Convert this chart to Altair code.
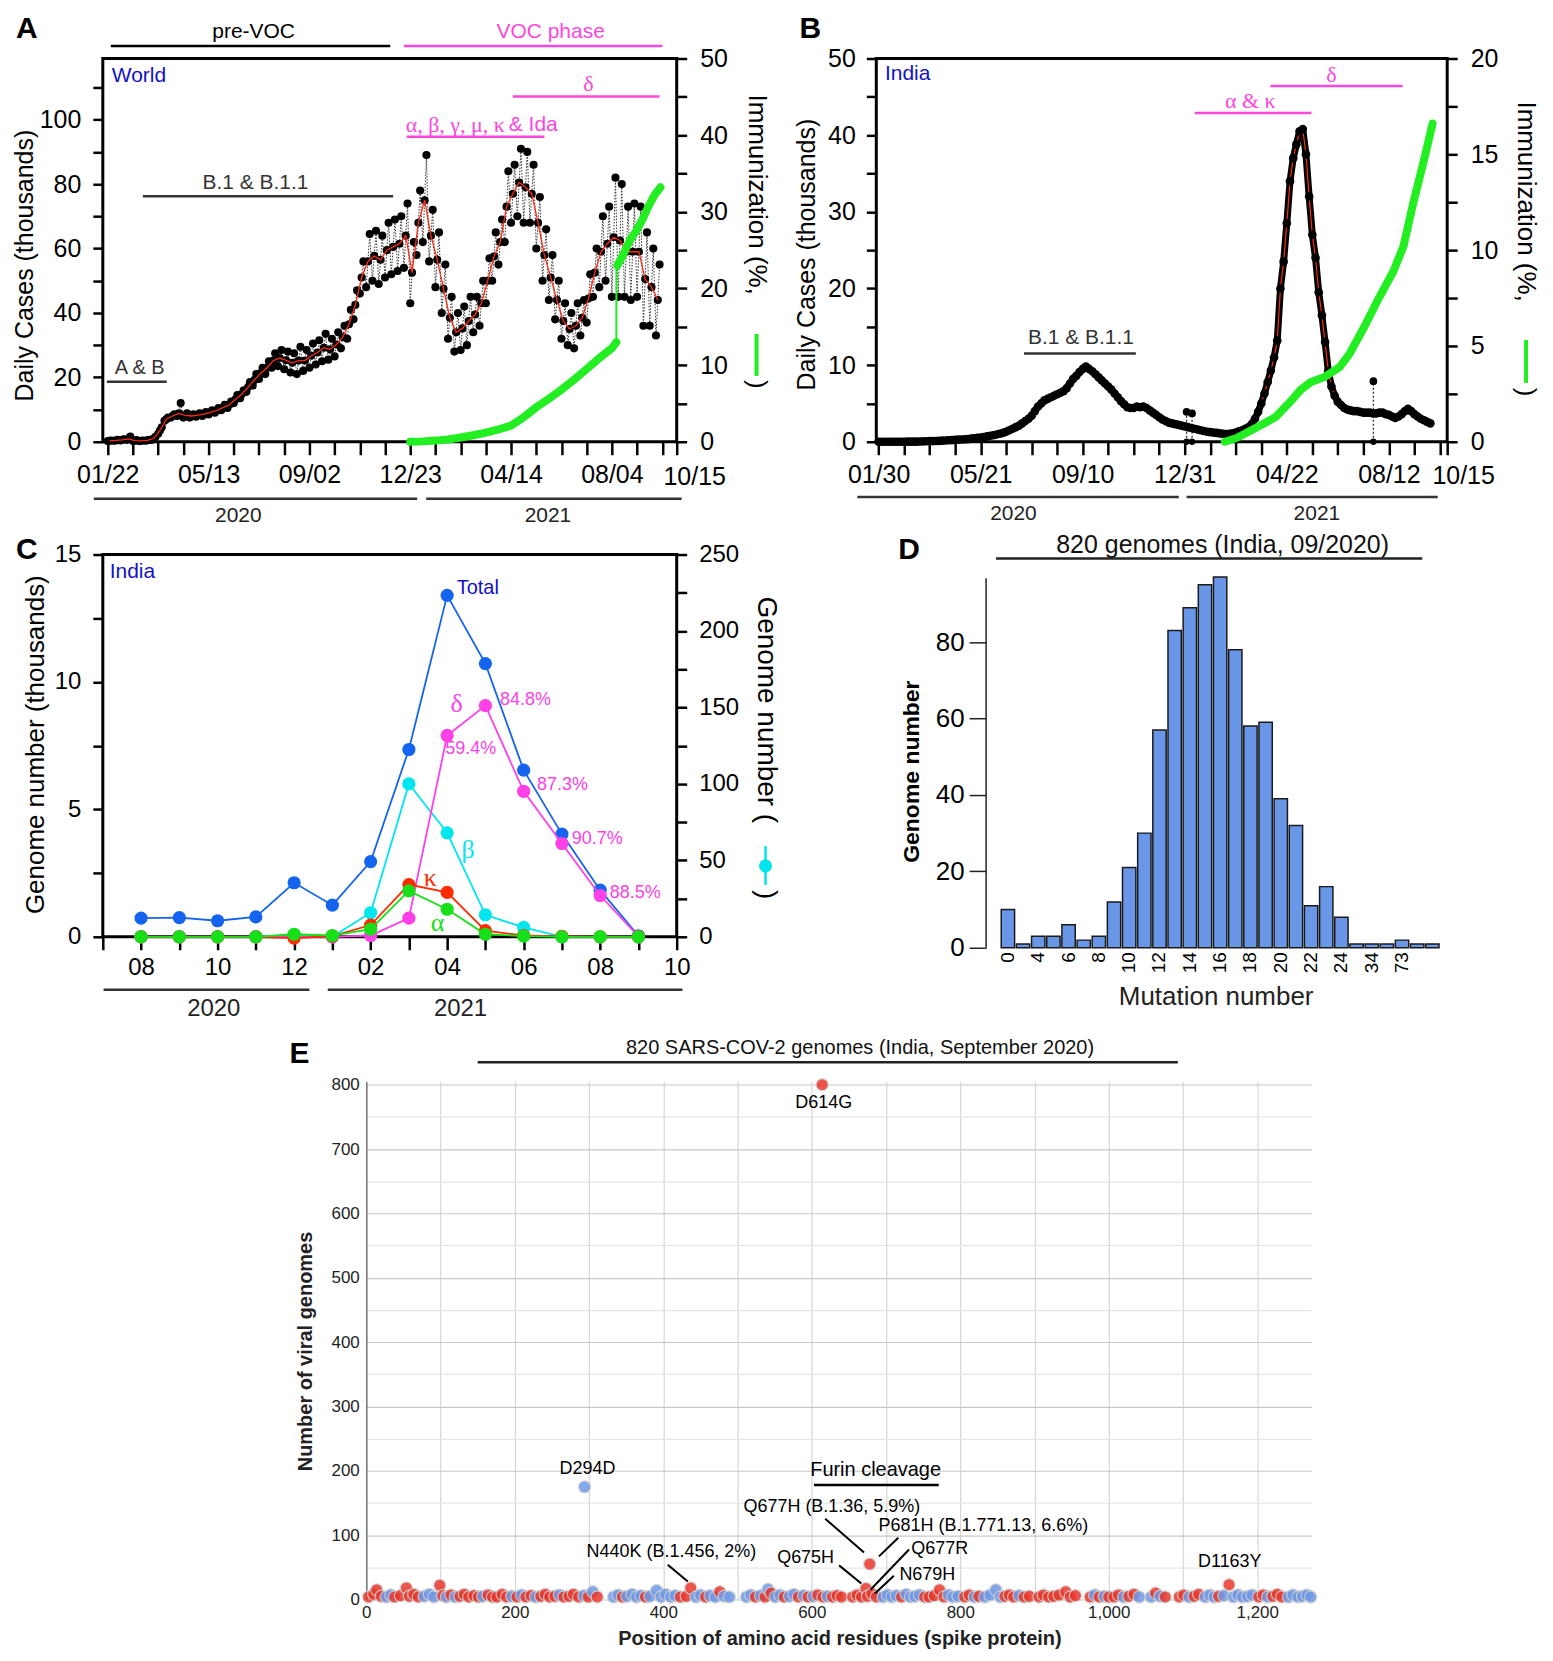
import altair as alt
import pandas as pd
from datetime import date

FONT = "Liberation Sans"
SERIF = "Liberation Serif"
MAG = "#ff46dc"
GRN = "#22ee22"
NAVY = "#1212c8"
RED = "#ff2a10"

# ---------------- Panel A: World daily cases (thousands): weekly low / mid / high ----------------
A_lo = [0.2, 0.3, 0.4, 0.6, 0.2, 0.2, 0.3, 0.6, 2.5, 6.5, 7.5, 8.0, 7.5, 7.5, 7.8, 8.0, 8.5, 9.0, 9.8, 10.5,
        12.0, 13.5, 15.5, 17.5, 19.5, 21.0, 23.0, 23.5, 22.5, 21.5, 21.0, 22.0, 23.0, 24.0, 25.0, 25.5, 26.5, 29.0, 32.0, 38.0,
        46.0, 48.0, 50.0, 49.0, 51.0, 52.0, 53.0, 54.0, 43.0, 58.0, 62.0, 56.0, 48.0, 40.0, 32.0, 28.0, 28.5, 30.0, 34.0, 36.0,
        43.0, 50.0, 55.0, 62.0, 68.0, 70.0, 68.0, 68.0, 60.0, 50.0, 44.0, 38.0, 32.0, 30.0, 29.0, 33.0, 37.0, 45.0, 48.0, 50.0,
        45.0, 45.0, 45.0, 44.0, 45.0, 36.0, 36.0, 33.0]
A_mid = [0.3, 0.4, 0.6, 0.9, 0.35, 0.3, 0.45, 1.0, 3.5, 7.0, 8.0, 8.8, 8.2, 8.0, 8.3, 8.6, 9.1, 9.7, 10.6, 11.5,
         13.2, 14.8, 17.0, 19.2, 21.3, 23.0, 25.2, 26.0, 25.3, 24.5, 25.2, 25.2, 26.7, 27.7, 29.2, 28.7, 30.2, 32.5, 36.5, 42.5,
         51.0, 56.0, 57.7, 56.5, 59.5, 60.5, 61.5, 64.0, 52.5, 68.0, 75.0, 64.0, 56.5, 47.5, 38.5, 34.0, 35.2, 37.5, 39.5, 43.0,
         50.0, 57.5, 62.0, 73.0, 77.0, 80.5, 79.0, 77.0, 68.0, 58.0, 51.0, 44.0, 37.5, 35.0, 36.0, 38.5, 44.5, 52.5, 59.0, 61.5,
         63.5, 62.5, 59.0, 59.0, 59.0, 50.5, 48.0, 44.0]
A_hi = [0.4, 0.6, 0.8, 1.6, 0.5, 0.4, 0.6, 1.5, 4.5, 7.5, 8.5, 12.0, 8.8, 8.5, 8.8, 9.2, 9.8, 10.5, 11.5, 12.5,
        14.5, 16.0, 18.5, 21.0, 23.0, 25.0, 27.5, 28.5, 28.0, 27.5, 29.5, 28.5, 30.5, 31.5, 33.5, 32.0, 34.0, 36.0, 41.0, 47.0,
        56.0, 64.5, 65.5, 64.0, 68.0, 69.0, 70.0, 74.0, 62.0, 78.0, 89.0, 72.0, 65.0, 55.0, 45.0, 40.0, 42.0, 45.0, 45.0, 50.0,
        57.0, 65.0, 69.0, 84.0, 86.0, 91.0, 90.0, 86.0, 76.0, 66.0, 58.0, 50.0, 43.0, 40.0, 43.0, 44.0, 52.0, 60.0, 70.0, 73.0,
        82.0, 80.0, 73.0, 74.0, 73.0, 65.0, 60.0, 55.0]
A_vax1_dates = ["2020-12-23", "2021-01-06", "2021-01-20", "2021-02-03", "2021-02-17", "2021-03-03", "2021-03-17",
                "2021-03-31", "2021-04-14", "2021-04-28", "2021-05-12", "2021-05-26", "2021-06-09", "2021-06-23",
                "2021-07-07", "2021-07-21", "2021-08-04", "2021-08-09"]
A_vax1_vals = [0, 0.05, 0.15, 0.3, 0.55, 0.85, 1.2, 1.6, 2.1, 3.2, 4.5, 5.6, 6.8, 8.1, 9.5, 10.9, 12.2, 13.0]
A_vax2_dates = ["2021-08-10", "2021-08-17", "2021-08-24", "2021-08-31", "2021-09-07", "2021-09-14", "2021-09-21", "2021-09-27"]
A_vax2_vals = [23.0, 24.5, 26.3, 27.5, 29.0, 30.8, 32.3, 33.2]

# ---------------- Panel B: India daily cases (thousands), twice weekly from 2020-01-30 ----------------
B_vals = [0.0, 0.0, 0.0, 0.0, 0.0, 0.0, 0.0, 0.0, 0.0, 0.01, 0.01, 0.02, 0.02, 0.03, 0.05, 0.06, 0.08, 0.09, 0.1, 0.12,
          0.15, 0.17, 0.2, 0.22, 0.25, 0.28, 0.3, 0.32, 0.35, 0.4, 0.45, 0.5, 0.55, 0.62, 0.7, 0.78, 0.85, 0.95, 1.05, 1.15,
          1.3, 1.5, 1.7, 1.9, 2.1, 2.4, 2.7, 3.0, 3.4, 4.0, 4.6, 5.0, 5.4, 5.6, 5.8, 6.0, 6.2, 6.4, 6.6, 7.0,
          7.6, 8.2, 8.6, 9.1, 9.5, 9.8, 9.5, 9.2, 8.8, 8.4, 8.0, 7.6, 7.2, 6.8, 6.3, 5.8, 5.3, 4.9, 4.5, 4.4,
          4.4, 4.6, 4.5, 4.6, 4.4, 4.1, 3.8, 3.5, 3.2, 2.9, 2.7, 2.5, 2.4, 2.3, 2.2, 2.1, 2.0, 1.9, 1.8, 1.7,
          1.6, 1.5, 1.4, 1.3, 1.25, 1.2, 1.15, 1.1, 1.05, 1.0, 1.05, 1.1, 1.2, 1.35, 1.5, 1.7, 1.9, 2.3, 3.0, 3.9,
          5.0, 6.3, 7.8, 9.3, 11.0, 13.2, 20.0, 23.5, 28.5, 34.0, 37.0, 38.8, 40.5, 40.8, 37.5, 32.0, 27.0, 24.0, 19.5, 16.5,
          13.0, 9.2, 7.2, 6.0, 5.2, 4.8, 4.4, 4.2, 4.1, 4.0, 4.0, 3.9, 3.8, 3.8, 3.8, 3.7, 3.7, 3.8, 3.8, 3.6,
          3.5, 3.3, 3.1, 3.3, 3.6, 4.0, 4.3, 4.0, 3.6, 3.3, 3.0, 2.8, 2.6, 2.4]
B_spike_dates = ["2021-01-02", "2021-01-08", "2021-07-26"]
B_spike_vals = [3.9, 3.7, 7.9]
B_vax_dates = ["2021-02-13", "2021-02-26", "2021-03-14", "2021-03-28", "2021-04-10", "2021-04-26", "2021-05-07",
               "2021-05-18", "2021-06-03", "2021-06-19", "2021-06-30", "2021-07-16", "2021-08-01", "2021-08-17",
               "2021-08-28", "2021-09-08", "2021-09-19", "2021-09-29"]
B_vax_vals = [0.0, 0.2, 0.6, 0.95, 1.3, 2.1, 2.7, 3.1, 3.4, 3.9, 4.6, 6.0, 7.5, 8.9, 10.2, 12.5, 14.6, 16.6]

# ---------------- Panel C: India genomes per month (08/2020 .. 09/2021) ----------------
C_months = [7, 8, 9, 10, 11, 12, 13, 14, 15, 16, 17, 18, 19, 20]   # months since 2020-01
C_total = [0.73, 0.75, 0.63, 0.78, 2.12, 1.24, 2.95, 7.35, 13.4, 10.72, 6.54, 4.03, 1.83, 0.04]
C_delta = [0, 0, 0, 0, 0, 0, 0.05, 0.73, 7.9, 9.07, 5.71, 3.66, 1.62, 0.02]
C_beta = [0, 0, 0, 0, 1.5, 0, 15.7, 100, 68, 14.4, 6.1, 0, 0, 0]      # right axis
C_kappa = [0, 0, 0, 0, -0.05, 0.03, 0.46, 2.05, 1.74, 0.24, 0.05, 0.02, 0, 0]
C_alpha = [0, 0, 0, 0, 0.1, 0.05, 0.3, 1.8, 1.08, 0.1, 0.03, 0, 0, 0]

# ---------------- Panel D: mutation number histogram ----------------
D_cats = ["0", "2", "4", "5", "6", "7", "8", "9", "10", "11", "12", "13", "14", "15", "16", "17", "18", "19",
          "20", "21", "22", "23", "24", "25", "34", "36", "73", "75", "80"]
D_counts = [10, 1, 3, 3, 6, 2, 3, 12, 21, 30, 57, 83, 89, 95, 97, 78, 58, 59, 39, 32, 11, 16, 8, 1, 1, 1, 2, 1, 1]
D_shown = ["0", "4", "6", "8", "10", "12", "14", "16", "18", "20", "22", "24", "34", "73"]

# ---------------- Panel E: spike mutations ----------------
E_pos = [3, 10, 14, 20, 27, 33, 38, 46, 54, 58, 64, 70, 78, 85, 91, 99, 103, 108, 114, 120,
         126, 132, 138, 145, 151, 157, 164, 170, 176, 183, 189, 196, 203, 209, 215, 222, 228, 235, 241, 247,
         254, 260, 266, 273, 279, 286, 293, 299, 305, 311,
         333, 339, 345, 351, 358, 364, 370, 376, 382, 391, 397, 403, 410, 416, 423, 431, 437, 444, 450, 457,
         463, 470, 476, 482, 489, 512, 518, 524, 531, 537, 541, 545, 551, 557, 563, 570, 576, 582, 589, 595,
         602, 608, 615, 621, 628, 634, 640,
         655, 661, 667, 673, 675, 681, 687, 696, 702, 708, 714, 721, 727, 733, 739, 745, 752, 758, 765, 772,
         778, 784, 790, 797, 806, 812, 819, 825, 833, 840, 848, 854, 860, 866, 872, 879, 886, 893, 906, 912,
         919, 926, 933, 942, 948, 955, 975, 981, 987, 994, 1000, 1007, 1013, 1020, 1027, 1034, 1041, 1057, 1063, 1069,
         1076, 1095, 1101, 1108, 1115, 1121, 1130, 1136, 1142, 1148, 1155, 1168, 1174, 1180, 1187, 1193, 1202, 1208, 1214, 1221,
         1227, 1233, 1242, 1248, 1255, 1261, 1267, 1272,
         294, 678, 1162, 614]
E_cnt = [4, 8, 15, 5, 4, 7, 4, 6, 18, 5, 8, 4, 5, 8, 4, 22, 6, 4, 7, 4,
         5, 8, 4, 6, 4, 5, 7, 4, 4, 8, 4, 5, 4, 7, 4, 6, 4, 5, 8, 4,
         5, 7, 4, 5, 8, 4, 6, 4, 12, 4,
         4, 7, 4, 5, 8, 4, 6, 4, 5, 14, 4, 8, 4, 6, 4, 5, 18, 4, 7, 4,
         6, 4, 12, 5, 4, 4, 7, 4, 6, 4, 16, 10, 4, 7, 4, 5, 8, 4, 6, 4,
         5, 7, 4, 5, 4, 6, 4,
         4, 7, 4, 17, 5, 9, 4, 4, 7, 4, 6, 4, 8, 4, 5, 7, 4, 4, 6, 15,
         4, 7, 4, 5, 4, 7, 4, 5, 4, 7, 15, 4, 5, 7, 4, 6, 4, 5, 4, 7,
         4, 5, 7, 12, 4, 6, 4, 7, 4, 5, 4, 4, 7, 4, 5, 8, 4, 4, 10, 5,
         4, 4, 7, 4, 5, 8, 4, 7, 4, 5, 6, 4, 7, 4, 5, 7, 4, 7, 4, 5,
         8, 4, 4, 7, 4, 5, 7, 4,
         175, 55, 23, 800]
E_col = list("rrrrbbrrrr" "rrbbbrrbrb" "rrrrrbrrrr" "rbrbrrbrrr" "rbrrrrbrbr"
             "bbrbbbbrbb" "bbbbrrrbbr" "bbrbbbbrbr" "brbbrbbrbr" "brrbrrr"
             "rrrrrrrbbb" "brbbbbrrrr" "rbbbrrbrbb" "bbrrrbrrrr" "rrrrrrrbrb"
             "rrrbrrbbrb" "rrrbrrbbbr" "bbbbbbrrbr" "rrbbbbbb"
             "brrr")

# ---------------- helpers ----------------
D0 = date(2020, 1, 1)


def dn(s):
    y, m, d = (int(t) for t in s.split("-"))
    return (date(y, m, d) - D0).days


def lab_expr(mapping):
    parts = [f"datum.value == {k} ? '{v}'" for k, v in mapping.items()]
    return " : ".join(parts) + " : ''"


def one(**kw):
    return pd.DataFrame({k: [v] for k, v in kw.items()})


def enc(channel, scale, axis):
    if channel == "x":
        return lambda f: alt.X(f, scale=scale, axis=axis)
    return lambda f: alt.Y(f, scale=scale, axis=axis)


def dtext(x, y, s, xe, ye, size=21, color="black", font=FONT, align="center", baseline="middle", weight="normal"):
    return alt.Chart(one(x=x, y=y, t=s)).mark_text(
        font=font, fontSize=size, color=color, align=align, baseline=baseline, fontWeight=weight
    ).encode(x=xe("x:Q"), y=ye("y:Q"), text="t:N")


def dseg(x1, x2, y1, y2, xe, ye, color="black", width=2.0):
    return alt.Chart(one(x=x1, x2=x2, y=y1, y2=y2)).mark_rule(color=color, strokeWidth=width).encode(
        x=xe("x:Q"), x2="x2:Q", y=ye("y:Q"), y2="y2:Q")


def ptext(px, py, s, size=21, color="black", font=FONT, align="left", baseline="middle", weight="normal", angle=0):
    return alt.Chart(one(t=s)).mark_text(
        font=font, fontSize=size, color=color, align=align, baseline=baseline, fontWeight=weight, angle=angle
    ).encode(x=alt.value(px), y=alt.value(py), text="t:N")


def prule(px1, px2, py1, py2, color="black", width=2.0):
    return alt.Chart(one(a=0)).mark_rule(color=color, strokeWidth=width).encode(
        x=alt.value(px1), x2=alt.value(px2), y=alt.value(py1), y2=alt.value(py2))


def pin(x1, x2, y1, y2):
    # invisible box fixing the panel's outer extent for the concat layout
    return alt.Chart(one(a=0)).mark_rect(opacity=0).encode(
        x=alt.value(x1), x2=alt.value(x2), y=alt.value(y1), y2=alt.value(y2))


def letter(px, py, s):
    return ptext(px, py, s, size=30, weight="bold", baseline="top")


AX = dict(tickColor="black", tickWidth=2.5, domain=False, grid=False, labelFont=FONT,
          labelColor="black", labelOverlap=False, labelFlush=False)
FRAME = alt.ViewBackground(stroke="black", strokeWidth=3)

# ======================= Panel A =======================
WA, HA = 575, 384
xA = alt.Scale(domain=[15.5, 653], nice=False, zero=False)
yAL = alt.Scale(domain=[0, 119], nice=False, zero=False)
yAR = alt.Scale(domain=[0, 50], nice=False, zero=False)

A_days, A_v = [], []
for i in range(len(A_lo)):
    base = dn("2020-01-22") + 7 * i
    A_days += [base, base + 2, base + 4]
    A_v += [A_lo[i], A_mid[i], A_hi[i]]
dfA = pd.DataFrame({"d": A_days, "v": A_v})
dfA_red = pd.DataFrame({"d": [dn("2020-01-22") + 7 * i + 2 for i in range(len(A_mid))], "v": A_mid})
dfA_vax = pd.DataFrame({"d": [dn(s) for s in A_vax1_dates] + [dn(s) for s in A_vax2_dates],
                        "v": A_vax1_vals + A_vax2_vals,
                        "seg": ["a"] * len(A_vax1_vals) + ["b"] * len(A_vax2_vals)})

A_major = {21: "01/22", 133: "05/13", 245: "09/02", 357: "12/23", 469: "04/14", 581: "08/04"}
A_ticks = [21 + 28 * k for k in range(23)] + [653]
axA_x = alt.Axis(values=A_ticks, labelExpr=lab_expr(A_major), tickSize=13, labelFontSize=25,
                 labelPadding=8, title=None, **AX)
axA_yl = alt.Axis(values=list(range(0, 111, 10)), labelExpr="datum.value % 20 == 0 ? datum.label : ''",
                  tickSize=10, labelFontSize=25, labelPadding=12, orient="left",
                  title="Daily Cases  (thousands)", titleFontSize=25, titleFontWeight="normal", titleFont=FONT,
                  titleX=-78, titleY=207, titleAngle=270, titleBaseline="middle", titleAlign="center", **AX)
axA_yr = alt.Axis(values=list(range(0, 51, 5)), labelExpr="datum.value % 10 == 0 ? datum.label : ''",
                  tickSize=10, labelFontSize=25, labelPadding=13, orient="right", title=None, **AX)
xeA = enc("x", xA, axA_x)
yeAL = enc("y", yAL, axA_yl)
yeAR = enc("y", yAR, axA_yr)

A_line = alt.Chart(dfA).mark_line(color="#333333", strokeWidth=1, strokeDash=[1.5, 1.5]).encode(
    x=xeA("d:Q"), y=yeAL("v:Q"))
A_dots = alt.Chart(dfA).mark_circle(size=66, color="black", opacity=1).encode(x=xeA("d:Q"), y=yeAL("v:Q"))
A_redl = alt.Chart(dfA_red).mark_line(color=RED, strokeWidth=1.3).encode(x=xeA("d:Q"), y=yeAL("v:Q"))

A_ann = [
    dtext(183, 127.2, "pre-VOC", xeA, yeAL, size=21),
    dseg(24.4, 334.8, 122.9, 122.9, xeA, yeAL, width=2.5),
    dtext(513, 127.2, "VOC phase", xeA, yeAL, size=21, color=MAG),
    dseg(350, 637, 122.9, 122.9, xeA, yeAL, color=MAG, width=2.5),
    dtext(25.5, 113.7, "World", xeA, yeAL, size=21, color=NAVY, align="left"),
    dtext(555, 111.1, "δ", xeA, yeAL, size=22, color=MAG, font=SERIF),
    dseg(471, 634, 107.2, 107.2, xeA, yeAL, color=MAG, width=2.5),
    dtext(462, 98.2, "α, β, γ, μ, κ", xeA, yeAL, size=22, color=MAG, font=SERIF, align="right"),
    dtext(466.5, 98.2, "& Ida", xeA, yeAL, size=21, color=MAG, align="left"),
    dseg(353, 506, 94.7, 94.7, xeA, yeAL, color=MAG, width=2.5),
    dtext(185, 80.3, "B.1 & B.1.1", xeA, yeAL, size=21, color="#333333"),
    dseg(60, 338, 76.2, 76.2, xeA, yeAL, color="#333333", width=2.5),
    dtext(56.5, 22.8, "A & B", xeA, yeAL, size=20, color="#333333"),
    dseg(20, 86.5, 18.6, 18.6, xeA, yeAL, color="#333333", width=2.5),
    dtext(673, -10.8, "10/15", xeA, yeAL, size=25),
    dseg(5.5, 364.7, -17.7, -17.7, xeA, yeAL, color="#333333", width=2.5),
    dseg(374.7, 658.5, -17.7, -17.7, xeA, yeAL, color="#333333", width=2.5),
    dtext(166, -23.2, "2020", xeA, yeAL, size=21, color="#222222"),
    dtext(510, -23.2, "2021", xeA, yeAL, size=21, color="#222222"),
    letter(-87, -45, "A"),
    ptext(655, 36, "Immunization (%,", size=26, angle=90),
    prule(655, 655, 276, 318, color=GRN, width=4),
    ptext(655, 322, ")", size=26, angle=90),
    pin(-93, 680, -47, 468),
]
A_green = alt.Chart(dfA_vax).mark_line(color=GRN, strokeWidth=8, strokeCap="round").encode(
    x=xeA("d:Q"), y=yeAR("v:Q"), detail="seg:N")
A_jump = dseg(dn("2021-08-09"), dn("2021-08-09"), 13, 23, xeA, yeAR, color=GRN, width=2)

A_left = alt.layer(A_line, A_dots, A_redl, *A_ann)
A_right = alt.layer(A_green, A_jump)
A = alt.layer(A_left, A_right).resolve_scale(y="independent").properties(width=WA, height=HA, view=FRAME)

# ======================= Panel B =======================
WB, HB = 572, 384
xB = alt.Scale(domain=[26.5, 653], nice=False, zero=False)
yBL = alt.Scale(domain=[0, 50], nice=False, zero=False)
yBR = alt.Scale(domain=[0, 20], nice=False, zero=False)

B_start = dn("2020-01-30")
dfB = pd.DataFrame({"d": [B_start + 3.5 * k for k in range(len(B_vals))], "v": B_vals})
dfB_sp = pd.DataFrame({"d": [dn(s) for s in B_spike_dates], "v": B_spike_vals, "z": [0] * len(B_spike_vals)})
dfB_vax = pd.DataFrame({"d": [dn(s) for s in B_vax_dates], "v": B_vax_vals})

B_major = {29: "01/30", 141: "05/21", 253: "09/10", 365: "12/31", 477: "04/22", 589: "08/12"}
B_ticks = [29 + 28 * k for k in range(23)] + [653]
axB_x = alt.Axis(values=B_ticks, labelExpr=lab_expr(B_major), tickSize=13, labelFontSize=25,
                 labelPadding=8, title=None, **AX)
axB_yl = alt.Axis(values=list(range(0, 51, 5)), labelExpr="datum.value % 10 == 0 ? datum.label : ''",
                  tickSize=10, labelFontSize=25, labelPadding=11, orient="left",
                  title="Daily Cases  (thousands)", titleFontSize=25, titleFontWeight="normal", titleFont=FONT,
                  titleX=-70, titleY=196, titleAngle=270, titleBaseline="middle", titleAlign="center", **AX)
axB_yr = alt.Axis(values=[0, 2.5, 5, 7.5, 10, 12.5, 15, 17.5, 20],
                  labelExpr="datum.value % 5 == 0 ? datum.label : ''",
                  tickSize=10, labelFontSize=25, labelPadding=13, orient="right", title=None, **AX)
xeB = enc("x", xB, axB_x)
yeBL = enc("y", yBL, axB_yl)
yeBR = enc("y", yBR, axB_yr)

B_band = alt.Chart(dfB).mark_line(color="black", strokeWidth=7, strokeCap="round", strokeJoin="round").encode(
    x=xeB("d:Q"), y=yeBL("v:Q"))
B_redl = alt.Chart(dfB).mark_line(color=RED, strokeWidth=1.2).encode(x=xeB("d:Q"), y=yeBL("v:Q"))
B_dots = alt.Chart(dfB).mark_circle(size=75, color="black", opacity=1).encode(x=xeB("d:Q"), y=yeBL("v:Q"))
B_sp_rule = alt.Chart(dfB_sp).mark_rule(color="#222222", strokeWidth=1.2, strokeDash=[2, 2]).encode(
    x=xeB("d:Q"), y=yeBL("z:Q"), y2="v:Q")
B_sp_top = alt.Chart(dfB_sp).mark_circle(size=60, color="black", opacity=1).encode(x=xeB("d:Q"), y=yeBL("v:Q"))
B_sp_bot = alt.Chart(dfB_sp).mark_circle(size=40, color="black", opacity=1).encode(x=xeB("d:Q"), y=yeBL("z:Q"))

B_ann = [
    dtext(36, 48.0, "India", xeB, yeBL, size=21, color=NAVY, align="left"),
    dtext(526, 47.9, "δ", xeB, yeBL, size=22, color=MAG, font=SERIF),
    dseg(459, 604, 46.4, 46.4, xeB, yeBL, color=MAG, width=2.5),
    dtext(437, 44.4, "α & κ", xeB, yeBL, size=22, color=MAG, font=SERIF),
    dseg(376, 504, 42.9, 42.9, xeB, yeBL, color=MAG, width=2.5),
    dtext(251, 13.6, "B.1 & B.1.1", xeB, yeBL, size=21, color="#333333"),
    dseg(188.6, 311.3, 11.5, 11.5, xeB, yeBL, color="#333333", width=2.5),
    dtext(671, -4.5, "10/15", xeB, yeBL, size=25),
    dseg(5.7, 358.4, -7.2, -7.2, xeB, yeBL, color="#333333", width=2.5),
    dseg(367, 642.6, -7.2, -7.2, xeB, yeBL, color="#333333", width=2.5),
    dtext(177, -9.4, "2020", xeB, yeBL, size=21, color="#222222"),
    dtext(510, -9.4, "2021", xeB, yeBL, size=21, color="#222222"),
    letter(-77, -45, "B"),
    ptext(651, 43, "Immunization (%,", size=26, angle=90),
    prule(651, 651, 282, 325, color=GRN, width=4),
    ptext(651, 330, ")", size=26, angle=90),
    pin(-91, 668, -47, 468),
]
B_green = alt.Chart(dfB_vax).mark_line(color=GRN, strokeWidth=8, strokeCap="round").encode(
    x=xeB("d:Q"), y=yeBR("v:Q"))

B_left = alt.layer(B_band, B_redl, B_sp_rule, B_dots, B_sp_top, B_sp_bot, *B_ann)
B = alt.layer(B_left, B_green).resolve_scale(y="independent").properties(width=WB, height=HB, view=FRAME)

# ======================= Panel C =======================
WC, HC = 575, 383
xC = alt.Scale(domain=[6, 21], nice=False, zero=False)
yCL = alt.Scale(domain=[0, 15], nice=False, zero=False)
yCR = alt.Scale(domain=[0, 250], nice=False, zero=False)

C_major = {7: "08", 9: "10", 11: "12", 13: "02", 15: "04", 17: "06", 19: "08", 21: "10"}
axC_x = alt.Axis(values=list(range(6, 22)), labelExpr=lab_expr(C_major), tickSize=13, labelFontSize=24,
                 labelPadding=6, title=None, **AX)
axC_yl = alt.Axis(values=[0, 2.5, 5, 7.5, 10, 12.5, 15], labelExpr="datum.value % 5 == 0 ? datum.label : ''",
                  tickSize=10, labelFontSize=24, labelPadding=12, orient="left",
                  title="Genome number  (thousands)", titleFontSize=26, titleFontWeight="normal", titleFont=FONT,
                  titleX=-67, titleY=190, titleAngle=270, titleBaseline="middle", titleAlign="center", **AX)
axC_yr = alt.Axis(values=list(range(0, 251, 25)), labelExpr="datum.value % 50 == 0 ? datum.label : ''",
                  tickSize=10, labelFontSize=24, labelPadding=12, orient="right", title=None, **AX)
xeC = enc("x", xC, axC_x)
yeCL = enc("y", yCL, axC_yl)
yeCR = enc("y", yCR, axC_yr)

C_colors = {"total": "#1464ef", "delta": "#ff40e6", "beta": "#00e6ef", "kappa": "#ff2a00", "alpha": "#18e018"}


def c_series(vals, col, ye):
    df = pd.DataFrame({"m": C_months, "v": vals})
    ln = alt.Chart(df).mark_line(color=col, strokeWidth=1.8).encode(x=xeC("m:Q"), y=ye("v:Q"))
    pt = alt.Chart(df).mark_circle(size=175, color=col, opacity=1).encode(x=xeC("m:Q"), y=ye("v:Q"))
    return [ln, pt]


C_left_layers = (c_series(C_total, C_colors["total"], yeCL)
                 + c_series(C_delta, C_colors["delta"], yeCL)
                 + c_series(C_kappa, C_colors["kappa"], yeCL)
                 + c_series(C_alpha, C_colors["alpha"], yeCL))
C_ann = [
    dtext(6.18, 14.3, "India", xeC, yeCL, size=21, color=NAVY, align="left"),
    dtext(15.25, 13.67, "Total", xeC, yeCL, size=20, color=NAVY, align="left"),
    dtext(15.25, 9.13, "δ", xeC, yeCL, size=26, color=C_colors["delta"], font=SERIF),
    dtext(16.38, 9.28, "84.8%", xeC, yeCL, size=18, color=C_colors["delta"], align="left"),
    dtext(14.95, 7.35, "59.4%", xeC, yeCL, size=18, color=C_colors["delta"], align="left"),
    dtext(17.35, 5.95, "87.3%", xeC, yeCL, size=18, color=C_colors["delta"], align="left"),
    dtext(18.26, 3.84, "90.7%", xeC, yeCL, size=18, color=C_colors["delta"], align="left"),
    dtext(19.25, 1.72, "88.5%", xeC, yeCL, size=18, color=C_colors["delta"], align="left"),
    dtext(15.55, 3.39, "β", xeC, yeCL, size=26, color=C_colors["beta"], font=SERIF),
    dtext(14.56, 2.31, "κ", xeC, yeCL, size=26, color=C_colors["kappa"], font=SERIF),
    dtext(14.75, 0.56, "α", xeC, yeCL, size=26, color=C_colors["alpha"], font=SERIF),
    dseg(6.02, 11.4, -2.08, -2.08, xeC, yeCL, color="#333333", width=2.5),
    dseg(11.88, 21.15, -2.08, -2.08, xeC, yeCL, color="#333333", width=2.5),
    dtext(8.9, -2.84, "2020", xeC, yeCL, size=24, color="#222222"),
    dtext(15.35, -2.84, "2021", xeC, yeCL, size=24, color="#222222"),
    letter(-87, -20, "C"),
    ptext(664, 42, "Genome number (", size=28, angle=90),
    prule(664, 664, 292, 331, color=C_colors["beta"], width=2.5),
    alt.Chart(one(a=0)).mark_circle(size=170, color=C_colors["beta"], opacity=1).encode(
        x=alt.value(664), y=alt.value(312)),
    ptext(664, 336, ")", size=28, angle=90),
    pin(-93, 690, -24, 469),
]
C_right = alt.layer(*c_series(C_beta, C_colors["beta"], yeCR))
C_left = alt.layer(*C_left_layers, *C_ann)
C = alt.layer(C_right, C_left).resolve_scale(y="independent").properties(width=WC, height=HC, view=FRAME)

# ======================= Panel D =======================
WD, HD = 469, 394
xD = alt.Scale(domain=D_cats, paddingInner=0.12, paddingOuter=1)
yD = alt.Scale(domain=[0, 102.9], nice=False, zero=False)
dfD = pd.DataFrame({"m": D_cats, "n": D_counts})
shown = ",".join(f"'{s}'" for s in D_shown)
axD_x = alt.Axis(labelAngle=270, labelExpr=f"indexof([{shown}], datum.label) >= 0 ? datum.label : ''",
                 ticks=False, domain=False, grid=False, labelFontSize=19, labelPadding=4, labelFont=FONT,
                 labelColor="black", labelOverlap=False,
                 title="Mutation number", titleFontSize=26, titleFontWeight="normal", titleFont=FONT,
                 titleColor="#222222", titleX=230, titleY=49, titleBaseline="middle", titleAlign="center")
axD_y = alt.Axis(values=[0, 20, 40, 60, 80], tickSize=17, tickWidth=1.5, tickColor="#222222", domain=False,
                 grid=False, labelFontSize=26, labelPadding=5, labelFont=FONT, labelColor="black",
                 title="Genome number", titleFontSize=23, titleFontWeight="bold", titleFont=FONT,
                 titleX=-75, titleY=217, titleAngle=270, titleBaseline="middle", titleAlign="center")
D_bars = alt.Chart(dfD).mark_bar(color="#6a96e8", stroke="#1a1a1a", strokeWidth=1.5).encode(
    x=alt.X("m:N", scale=xD, axis=axD_x), y=alt.Y("n:Q", scale=yD, axis=axD_y))
D_axis_line = alt.Chart(one(a=0, b=96.7)).mark_rule(color="#222222", strokeWidth=1.5).encode(
    x=alt.value(0), y=alt.Y("a:Q", scale=yD, axis=axD_y), y2="b:Q")
D = alt.layer(
    D_bars, D_axis_line,
    ptext(237, -10, "820 genomes (India, 09/2020)", size=25, align="center", color="#111111"),
    prule(10, 437, 4, 4, color="#222222", width=2.5),
    letter(-88, -20, "D"),
    pin(-192, 500, -24, 469),
).properties(width=WD, height=HD)

# ======================= Panel E =======================
WE, HE = 947, 519
xE = alt.Scale(domain=[0, 1273], nice=False, zero=False)
yE = alt.Scale(domain=[0, 805], nice=False, zero=False)
dfE = pd.DataFrame({"p": E_pos, "n": E_cnt, "c": E_col})
axE_x = alt.Axis(values=list(range(0, 1201, 100)),
                 labelExpr="datum.value % 200 == 0 ? format(datum.value, ',') : ''",
                 grid=True, gridColor="#d6d6d6", gridWidth=1.2, ticks=False, domain=False,
                 labelFontSize=17, labelPadding=5, labelColor="#222222", labelFont=FONT, labelOverlap=False,
                 labelFlush=False, title="Position of amino acid residues (spike protein)", titleFontSize=20,
                 titleFontWeight="bold", titleFont=FONT, titleColor="#222222", titleX=474, titleY=39,
                 titleBaseline="middle", titleAlign="center")
axE_y = alt.Axis(values=list(range(0, 801, 50)), labelExpr="datum.value % 100 == 0 ? datum.label : ''",
                 grid=True, gridColor={"condition": {"test": "datum.value % 100 === 0", "value": "#c8c8c8"},
                                       "value": "#e6e6e6"},
                 gridWidth=1.2, ticks=False, domain=True, domainColor="#777777", domainWidth=1.5,
                 labelFontSize=17, labelPadding=7, labelColor="#222222", labelFont=FONT,
                 title="Number of viral genomes", titleFontSize=20, titleFontWeight="bold", titleFont=FONT,
                 titleColor="#222222", titleX=-61, titleY=270, titleAngle=270, titleBaseline="middle",
                 titleAlign="center")
xeE = enc("x", xE, axE_x)
yeE = enc("y", yE, axE_y)
E_pts = alt.Chart(dfE).mark_circle(size=150, opacity=0.85, stroke="#d0d0d0", strokeWidth=1.2).encode(
    x=xeE("p:Q"), y=yeE("n:Q"),
    color=alt.Color("c:N", scale=alt.Scale(domain=["r", "b"], range=["#e8382d", "#6f98e6"]), legend=None))
E_ann = [
    dtext(665, 857, "820 SARS-COV-2 genomes (India, September 2020)", xeE, yeE, size=20, color="#111111"),
    dseg(150, 1093, 835, 835, xeE, yeE, color="#222222", width=2.5),
    dtext(616, 771, "D614G", xeE, yeE, size=18),
    dtext(298, 203, "D294D", xeE, yeE, size=18),
    dtext(686, 201, "Furin cleavage", xeE, yeE, size=20),
    dseg(603, 771, 178, 178, xeE, yeE, width=2.5),
    dtext(627, 143.5, "Q677H (B.1.36, 5.9%)", xeE, yeE, size=18),
    dtext(690, 114, "P681H (B.1.771.13, 6.6%)", xeE, yeE, size=18, align="left"),
    dtext(734, 78, "Q677R", xeE, yeE, size=18, align="left"),
    dtext(718, 38, "N679H", xeE, yeE, size=18, align="left"),
    dtext(630, 65, "Q675H", xeE, yeE, size=18, align="right"),
    dtext(411, 74.5, "N440K (B.1.456, 2%)", xeE, yeE, size=18),
    dtext(1163, 58, "D1163Y", xeE, yeE, size=18),
    dseg(618, 670.4, 125.6, 73, xeE, yeE, width=2),
    dseg(716.5, 690.5, 96, 67, xeE, yeE, width=2),
    dseg(731, 679.4, 77.6, 15.5, xeE, yeE, width=2),
    dseg(710.6, 685, 37, 9.3, xeE, yeE, width=2),
    dseg(636.8, 666.7, 53, 24.8, xeE, yeE, width=2),
    dseg(406, 433, 54, 28, xeE, yeE, width=2),
    letter(-77, -43, "E"),
    pin(-80, 967, -56, 560),
]
E = alt.layer(E_pts, *E_ann).properties(width=WE, height=HE)

# left filler for the bottom row: shares panel A/C's left extent, pushes panel E to the right
E_filler = alt.layer(pin(-93, 182, -56, 0)).properties(width=1, height=1)

# ======================= layout =======================
chart = alt.vconcat(
    alt.hconcat(A, B, spacing=0),
    alt.hconcat(C, D, spacing=0),
    alt.hconcat(E_filler, E, spacing=0),
    spacing=0,
).configure(font=FONT).configure_view(stroke="transparent").properties(
    padding={"left": 0, "top": 0, "right": 0, "bottom": 0})

chart.save("out.html", embed_options={"renderer": "svg", "actions": False})
